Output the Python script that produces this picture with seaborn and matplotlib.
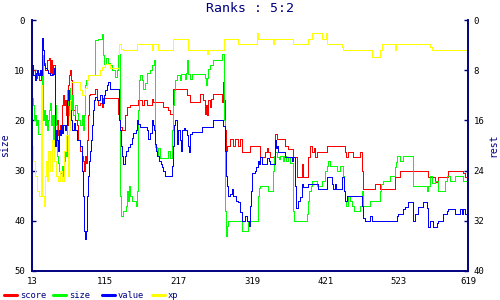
import matplotlib
matplotlib.use("Agg")
import matplotlib.pyplot as plt
import pandas as pd
import seaborn as sns
from matplotlib.lines import Line2D

# ---------------- data ----------------
score_x = [13, 14, 17, 20, 23, 25, 28, 31, 34, 37, 38, 39, 41, 42, 45, 48, 49, 52, 55, 56, 57, 59,
           60, 62, 63, 64, 66, 67, 69, 70, 73, 76, 77, 80, 82, 84, 85, 87, 88, 89, 91, 92, 94, 101,
           103, 105, 108, 110, 112, 119, 133, 135, 138, 142, 145, 149, 160, 166, 169, 173, 180, 181,
           195, 202, 205, 209, 228, 233, 246, 251, 253, 255, 256, 258, 260, 262, 264, 277, 278, 280,
           281, 283, 284, 288, 292, 295, 299, 302, 305, 316, 330, 337, 340, 341, 344, 351, 354, 365,
           369, 376, 381, 388, 390, 397, 399, 402, 405, 406, 409, 423, 448, 449, 452, 459, 469, 472,
           473, 490, 497, 518, 524, 563, 573, 577, 591, 612, 615, 617, 619]
score_y = [11, 10, 11.5, 10.5, 12, 11, 8.5, 10, 8, 7.5, 10.5, 8, 11, 9, 22, 20, 23, 21, 17, 15, 17, 16,
           19, 21, 13, 11, 10, 12, 16, 18, 20, 21, 24, 26, 27, 28, 30, 27, 28.5, 24, 19, 15, 14.7, 13.7,
           16, 17, 16.5, 17.4, 15.5, 15.5, 18.7, 21.3, 22, 19, 17.4, 17, 16, 17, 16, 17, 15.7, 16.3,
           17.4, 18, 18.7, 13.7, 15, 16.3, 14.7, 16, 18.7, 17, 19, 16, 17.3, 15.7, 14.7, 16.3, 12.3, 16,
           22, 26, 25, 23.7, 25, 23.7, 25, 23.7, 26.3, 25, 27.3, 26.3, 25.5, 26.3, 27.3, 22.7, 23.7, 25,
           25.7, 27.3, 31.3, 28.7, 31.3, 27.3, 25, 26.3, 25.5, 27.3, 26.3, 25, 26.3, 27.3, 26.3, 27.3, 26.3, 30,
           33.7, 32.6, 33.7, 31.3, 30.1, 31.3, 32.2, 31.3, 30.1, 30.5, 31.3, 30.1, 30.1]

size_x = [13, 14, 16, 17, 19, 20, 21, 27, 28, 30, 31, 32, 34, 35, 37, 38, 40, 41, 42, 44, 45, 46, 48,
          49, 50, 52, 55, 56, 57, 59, 60, 62, 63, 64, 66, 67, 69, 70, 73, 76, 77, 80, 82, 84, 85, 87,
          88, 91, 101, 105, 110, 112, 113, 116, 119, 121, 124, 128, 131, 133, 134, 135, 137, 140, 144,
          145, 146, 148, 149, 152, 157, 159, 160, 162, 163, 166, 167, 170, 173, 177, 180, 183, 184,
          187, 188, 191, 202, 205, 208, 209, 211, 212, 215, 219, 220, 226, 227, 228, 230, 233, 235,
          253, 255, 256, 258, 260, 265, 277, 280, 281, 283, 284, 285, 305, 313, 327, 328, 330, 341,
          348, 349, 351, 354, 356, 358, 362, 363, 366, 369, 372, 376, 377, 395, 397, 398, 401, 402,
          409, 416, 420, 423, 424, 427, 437, 441, 445, 447, 448, 449, 452, 455, 458, 461, 469, 472,
          473, 483, 497, 498, 501, 511, 518, 519, 520, 524, 529, 543, 562, 563, 566, 569, 573, 577,
          587, 590, 594, 601, 612, 618, 619]
size_y = [15.5, 17, 20, 19, 21, 20, 22.7, 7, 20, 18, 21, 19, 22, 20, 18, 16.5, 21, 19, 24, 19, 17, 21, 27,
          28.5, 30, 30.5, 29, 31, 28, 26, 27, 14, 17, 19, 13.5, 18, 15, 19, 17, 18.5, 20, 21, 19, 22, 19, 13,
          12, 11, 4, 3.8, 2.7, 7, 8.7, 7.5, 8.5, 9, 10, 11.3, 10, 7, 6.7, 35, 39, 38, 37,
          34, 36, 33, 35, 36, 37, 34, 18, 12, 11, 12, 13.7, 12.5, 10.5, 10, 9, 8, 25.3,
          27, 25.5, 27.5, 26, 27.5, 22, 17, 14, 12, 11, 12, 10.7, 11.7, 10.5, 8, 10.7, 11.7, 10.7,
          11.5, 13, 11.5, 9.7, 9, 7.9, 6.7, 20, 38, 43, 41, 40, 42, 40, 35, 33.5, 33, 34,
          30, 27, 26.3, 27.3, 27.7, 27, 28, 27, 28, 27.3, 28.5, 38, 40, 38.7, 36, 34, 33, 32,
          33, 32, 30, 29, 28, 29, 30, 29, 31, 34, 36, 37, 35, 36, 37, 38, 37, 34,
          37, 36, 34, 32.6, 32, 31, 29.3, 28.3, 27, 28, 27, 33, 34, 33, 31, 32.5, 32, 34,
          32, 31, 32, 31, 32, 33, 33]

value_x = [13, 14, 17, 19, 20, 21, 24, 25, 27, 28, 30, 31, 34, 35, 38, 41, 44, 45, 46, 48, 49, 50, 52,
           53, 55, 56, 59, 60, 62, 63, 64, 66, 67, 69, 71, 73, 76, 80, 82, 84, 85, 87, 88, 89, 91, 92,
           94, 95, 96, 98, 99, 101, 103, 108, 110, 113, 115, 117, 119, 121, 134, 135, 137, 138, 139,
           142, 144, 146, 149, 152, 153, 158, 159, 160, 163, 173, 174, 177, 180, 181, 183, 184, 186,
           187, 190, 192, 194, 195, 198, 208, 209, 211, 212, 214, 215, 216, 219, 220, 222, 224, 226,
           228, 230, 231, 233, 235, 249, 265, 278, 281, 283, 284, 285, 288, 291, 292, 297, 299, 302,
           305, 309, 312, 315, 316, 317, 319, 323, 324, 327, 329, 330, 333, 340, 343, 344, 351, 352,
           354, 355, 365, 374, 376, 379, 380, 383, 386, 388, 390, 397, 411, 423, 430, 431, 434, 435,
           444, 447, 448, 451, 472, 473, 476, 483, 486, 520, 522, 529, 532, 536, 543, 545, 550, 557,
           562, 563, 566, 570, 576, 577, 584, 590, 591, 601, 608, 611, 612, 615, 619]
value_y = [9, 11, 12, 10.5, 10, 11, 10, 11, 3.5, 6, 9, 9.5, 10, 10.5, 11, 10.7, 9.5, 25, 22, 24, 26, 22, 23,
           21, 22.5, 21, 22, 21, 16, 14, 17, 18, 20, 22, 20.5, 22, 24, 25, 30, 35, 42, 43.6, 42, 35, 31, 28,
           26, 24, 21, 18, 16, 15.3, 16, 15, 16.5, 15, 14, 13, 12.3, 13.7, 20, 22, 25, 27, 28.7,
           27, 26, 25.3, 24.7, 23.5, 22.5, 22, 20, 20.7, 21.3, 22, 23.7, 22.5, 20, 21, 22, 24.7, 26,
           27, 28, 28.7, 29.3, 30, 31, 29, 25, 21, 20, 23, 24.7, 22, 24, 26, 22, 21.5, 22,
           23, 25, 26.3, 22.7, 22.3, 21.3, 19.9, 21.2, 26, 31, 33, 35, 34.7, 33.7, 35, 36, 36.3, 38.3,
           40, 39, 40, 41, 37, 34, 30.5, 30, 29.3, 28, 28.7, 27.3, 28.7, 27.5, 28, 28.7, 24, 25.5,
           25, 26.3, 27.3, 28, 27.3, 33, 37.4, 36, 35.3, 32.6, 33.3, 32.6, 33.7, 31.3, 32.6, 33.7, 32.6, 33.7,
           31.3, 34, 36, 35, 37, 39.4, 40, 39, 40, 39, 38.7, 37.7, 37.3, 36.3, 40, 38.7, 37.3, 36.3,
           37.5, 41.3, 40, 41.3, 40.5, 40, 38.7, 38, 37.7, 38.7, 37.7, 38.7, 37.7, 38.7, 38.7]

xp_x = [13, 14, 17, 20, 23, 25, 27, 30, 31, 32, 34, 35, 38, 41, 44, 46, 49, 52, 55, 57, 60, 63, 64, 66,
        67, 80, 82, 87, 89, 91, 108, 110, 114, 121, 134, 137, 139, 159, 180, 181, 188, 209, 230, 256,
        258, 280, 299, 326, 327, 348, 349, 376, 397, 402, 416, 422, 423, 444, 445, 486, 497, 500, 518,
        519, 566, 569, 618, 619]
xp_y = [25, 28, 31, 34, 35, 13, 35, 37, 31, 28, 32, 26, 30, 24, 28, 31, 32, 30, 32, 26, 23, 31, 22, 16,
        12.3, 14, 15, 13.5, 12, 11, 10, 9.3, 8.7, 9.5, 4.7, 5.7, 6, 4.7, 6, 4.7, 6, 3.7, 6, 6.8,
        6, 3.7, 4.7, 2.5, 3.7, 4.7, 3.7, 4.7, 3.7, 2.5, 3.7, 2.5, 4.7, 5.3, 6, 7.4, 6, 4.7, 6,
        4.7, 5.3, 6, 7.4, 7.4]

series_names = ["score", "size", "value", "xp"]
series_colors = ["#ff0000", "#00ff00", "#0000ff", "#ffff00"]
x_ticks = [13, 115, 217, 319, 421, 523, 619]
left_ticks = [0, 10, 20, 30, 40, 50]
right_ticks = [0, 8, 16, 24, 32, 40]
title_text = "Ranks : 5:2"

# ---------------- frame ----------------
frames = []
for name, xs, ys in zip(series_names,
                        [score_x, size_x, value_x, xp_x],
                        [score_y, size_y, value_y, xp_y]):
    frames.append(pd.DataFrame({"x": xs, "v": ys, "series": name}))
df = pd.concat(frames, ignore_index=True)

sns.set_theme(style="white")
plt.rcParams['font.family'] = ['DejaVu Sans Mono', 'DejaVu Sans']

navy = "#000080"
fig = plt.figure(figsize=(5, 3), dpi=100)
ax = fig.add_axes([32 / 500, 29 / 300, 436 / 500, 251 / 300])

sns.lineplot(data=df, x="x", y="v", hue="series", hue_order=series_names,
             palette=dict(zip(series_names, series_colors)), estimator=None, sort=False,
             drawstyle="steps-post", linewidth=0.72, antialiased=False, legend=False, ax=ax)

ax.set_xlim(13, 619)
ax.set_ylim(50, 0)
ax.set_xticks(x_ticks)
ax.set_xticklabels([str(t) for t in x_ticks])
ax.set_yticks(left_ticks)
ax.set_yticklabels([str(t) for t in left_ticks])
ax.set_xlabel("")
ax.set_ylabel("size", fontsize=7, color=navy, labelpad=3)
ax.tick_params(axis="both", direction="in", length=3, width=1, color=navy,
               labelsize=6.5, labelcolor="black")
ax.tick_params(axis="y", pad=5)
ax.tick_params(axis="x", pad=4)
for side in ["left", "bottom", "right"]:
    ax.spines[side].set_color(navy)
    ax.spines[side].set_linewidth(1.2)
ax.spines["top"].set_visible(False)
ax.grid(False)
ax.set_title(title_text, color=navy, fontsize=9.5, pad=6)

ax2 = ax.twinx()
ax2.set_ylim(40, 0)
ax2.set_yticks(right_ticks)
ax2.set_yticklabels([str(t) for t in right_ticks])
ax2.set_ylabel("rest", fontsize=7, color=navy, labelpad=3)
ax2.tick_params(axis="y", direction="in", length=3, width=1, color=navy,
                labelsize=6.5, labelcolor="black", pad=4)
for side in ["left", "bottom", "right"]:
    ax2.spines[side].set_color(navy)
    ax2.spines[side].set_linewidth(1.2)
ax2.spines["top"].set_visible(False)
ax2.grid(False)

# legend (fixed-width slots like the original)
leg_y = 1 - 295 / 300
slot_starts = [4, 53, 102, 152]
for name, col, x0 in zip(series_names, series_colors, slot_starts):
    fig.add_artist(Line2D([x0 / 500, (x0 + 13) / 500], [leg_y, leg_y], color=col,
                          linewidth=2.2, transform=fig.transFigure))
    fig.text((x0 + 16) / 500, leg_y, name, fontsize=6.3, color=navy,
             ha="left", va="center")

fig.savefig("out.png", dpi=100)
